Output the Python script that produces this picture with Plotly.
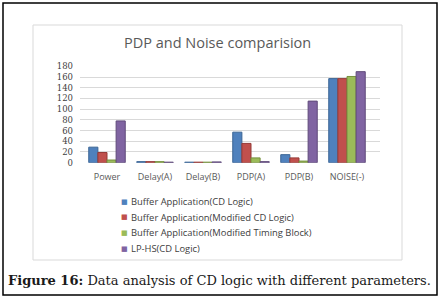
import plotly.graph_objects as go

categories = ["Power", "Delay(A)", "Delay(B)", "PDP(A)", "PDP(B)", "NOISE(-)"]
series_names = [
    "Buffer Application(CD Logic)",
    "Buffer Application(Modified CD Logic)",
    "Buffer Application(Modified Timing Block)",
    "LP-HS(CD Logic)",
]
cd_logic = [29, 2, 1, 57, 15, 157]
modified_cd_logic = [19, 2, 1, 36, 9, 157]
modified_timing_block = [5, 2, 1, 9, 3, 161]
lp_hs_cd_logic = [78, 1, 1.5, 2, 115, 170]
y_ticks = [0, 20, 40, 60, 80, 100, 120, 140, 160, 180]

series_values = [cd_logic, modified_cd_logic, modified_timing_block, lp_hs_cd_logic]
colors = ["#4F81BD", "#C0504D", "#9BBB59", "#8064A2"]
edge_colors = ["#3A6494", "#953A37", "#76903F", "#5F4A7A"]

fig = go.Figure()
for name, vals, c, e in zip(series_names, series_values, colors, edge_colors):
    fig.add_trace(go.Bar(x=categories, y=vals, name=name, showlegend=False,
                         marker=dict(color=c, line=dict(color=e, width=1))))

W, H = 442, 300
def px(x): return x / W
def py(y): return 1 - y / H

annotations = [
    dict(text="PDP and Noise comparision", xref="paper", yref="paper",
         x=px(217), y=py(42), showarrow=False, xanchor="center", yanchor="middle",
         font=dict(family="Open Sans", size=14.5, color="#595959")),
    dict(text="<b>Figure 16:</b> Data analysis of CD logic with different parameters.",
         xref="paper", yref="paper", x=px(6), y=py(280), showarrow=False,
         xanchor="left", yanchor="middle",
         font=dict(family="DejaVu Serif", size=13, color="#1a1a1a")),
]
# legend (manual, to match the compact spacing of the original)
legend_rows = [201.7, 217.2, 232.7, 248.5]
for name, c, row in zip(series_names, colors, legend_rows):
    annotations.append(dict(text="■", xref="paper", yref="paper", x=px(119), y=py(row),
                            showarrow=False, xanchor="left", yanchor="middle",
                            font=dict(family="DejaVu Sans", size=7, color=c)))
    annotations.append(dict(text=name, xref="paper", yref="paper", x=px(129), y=py(row),
                            showarrow=False, xanchor="left", yanchor="middle",
                            font=dict(family="Open Sans", size=9.4, color="#404040")))

fig.update_layout(
    width=W, height=H,
    margin=dict(l=0, r=0, t=0, b=0),
    paper_bgcolor="white", plot_bgcolor="white",
    barmode="group", bargap=0.24, bargroupgap=0.0,
    font=dict(family="Open Sans", color="#404040"),
    xaxis=dict(domain=[px(80), px(380)], range=[-0.5625, 5.6875], automargin=False,
               showgrid=False, showline=False, zeroline=False, ticks="",
               tickfont=dict(family="Open Sans", size=9, color="#595959"),
               ticklabelstandoff=7),
    yaxis=dict(domain=[py(162.7), py(66.3)], range=[0, 180], automargin=False,
               tickvals=y_ticks, showgrid=True, gridcolor="#D9D9D9", gridwidth=1,
               zeroline=False, showline=False, ticks="",
               tickfont=dict(family="DejaVu Serif", size=8.5, color="#404040"),
               ticklabelstandoff=6),
    showlegend=False,
    shapes=[
        dict(type="rect", xref="paper", yref="paper",
             x0=px(33), x1=px(402), y0=py(260), y1=py(25),
             line=dict(color="#D9D9D9", width=1), layer="below"),
        dict(type="rect", xref="paper", yref="paper",
             x0=px(3), x1=px(437), y0=py(295), y1=py(3),
             line=dict(color="black", width=1.5)),
    ],
    annotations=annotations,
)

fig.write_html("out.html", config={"displayModeBar": False},
               post_script="document.body.style.margin='0';document.body.style.overflow='hidden';")
